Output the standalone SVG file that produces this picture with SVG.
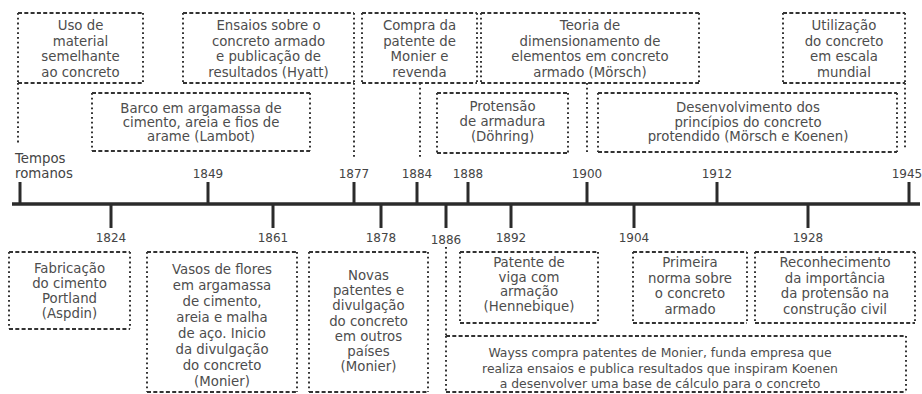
<svg xmlns="http://www.w3.org/2000/svg" width="922" height="394" viewBox="0 0 922 394">
<style>
.h{fill:none;stroke:#333;stroke-width:1.9;stroke-dasharray:4 2.3}
.v{fill:none;stroke:#333;stroke-width:2;stroke-dasharray:1.8 3}
.t{font-family:"DejaVu Sans","Liberation Sans",sans-serif;font-size:13.3px;fill:#4d4d4d;text-anchor:middle}
.y{font-family:"DejaVu Sans","Liberation Sans",sans-serif;font-size:12px;fill:#444;text-anchor:middle}
.axis{stroke:#2b2b2b;stroke-width:3.5}
.tick{stroke:#2b2b2b;stroke-width:3}
</style>
<rect width="922" height="394" fill="#fff"/>

<g id="timeline">
<line class="axis" x1="12" y1="204" x2="920" y2="204"/>
<line class="tick" x1="20" y1="182" x2="20" y2="204"/>
<line class="tick" x1="208" y1="182" x2="208" y2="204"/>
<line class="tick" x1="354" y1="182" x2="354" y2="204"/>
<line class="tick" x1="417" y1="182" x2="417" y2="204"/>
<line class="tick" x1="468" y1="182" x2="468" y2="204"/>
<line class="tick" x1="587" y1="182" x2="587" y2="204"/>
<line class="tick" x1="717" y1="182" x2="717" y2="204"/>
<line class="tick" x1="909" y1="182" x2="909" y2="204"/>
<line class="tick" x1="111" y1="204" x2="111" y2="228"/>
<line class="tick" x1="273" y1="204" x2="273" y2="228"/>
<line class="tick" x1="381" y1="204" x2="381" y2="228"/>
<line class="tick" x1="446" y1="204" x2="446" y2="228"/>
<line class="tick" x1="511" y1="204" x2="511" y2="228"/>
<line class="tick" x1="634" y1="204" x2="634" y2="228"/>
<line class="tick" x1="808" y1="204" x2="808" y2="228"/>
<text x="15" y="163" class="y" style="text-anchor:start;font-size:13.3px">Tempos</text>
<text x="15" y="178" class="y" style="text-anchor:start;font-size:13.3px">romanos</text>
<text x="208" y="178" class="y">1849</text>
<text x="354" y="178" class="y">1877</text>
<text x="417" y="178" class="y">1884</text>
<text x="468" y="178" class="y">1888</text>
<text x="587" y="178" class="y">1900</text>
<text x="717" y="178" class="y">1912</text>
<text x="907" y="178" class="y">1945</text>
<text x="111" y="242" class="y">1824</text>
<text x="273" y="242" class="y">1861</text>
<text x="381" y="242" class="y">1878</text>
<text x="446" y="244" class="y">1886</text>
<text x="511" y="242" class="y">1892</text>
<text x="634" y="242" class="y">1904</text>
<text x="808" y="242" class="y">1928</text>
</g>

<g id="connectors">
<path class="v" d="M18 83V145M354 83V157M420 83V157M587 83V154M905 83V150M446 247V337"/>
</g>

<g id="uso">
<path class="h" d="M18 13H143M18 83H143"/><path class="v" d="M18 13V83M143 13V83"/>
<text class="t"><tspan x="80.5" y="30">Uso de</tspan><tspan x="80.5" y="45.5">material</tspan><tspan x="80.5" y="61">semelhante</tspan><tspan x="80.5" y="76.5">ao concreto</tspan></text>
</g>
<g id="ensaios">
<path class="h" d="M183 13H354M183 83H354"/><path class="v" d="M183 13V83M354 13V83"/>
<text class="t"><tspan x="268.5" y="30">Ensaios sobre o</tspan><tspan x="268.5" y="45.5">concreto armado</tspan><tspan x="268.5" y="61">e publicação de</tspan><tspan x="268.5" y="76.5">resultados (Hyatt)</tspan></text>
</g>
<g id="compra">
<path class="h" d="M362 13H477M362 83H477"/><path class="v" d="M362 13V83M477 13V83"/>
<text class="t"><tspan x="419.5" y="30">Compra da</tspan><tspan x="419.5" y="45.5">patente de</tspan><tspan x="419.5" y="61">Monier e</tspan><tspan x="419.5" y="76.5">revenda</tspan></text>
</g>
<g id="teoria">
<path class="h" d="M481 13H699M481 83H699"/><path class="v" d="M481 13V83M699 13V83"/>
<text class="t"><tspan x="590" y="30">Teoria de</tspan><tspan x="590" y="45.5">dimensionamento de</tspan><tspan x="590" y="61">elementos em concreto</tspan><tspan x="590" y="76.5">armado (Mörsch)</tspan></text>
</g>
<g id="utilizacao">
<path class="h" d="M783 13H905M783 83H905"/><path class="v" d="M783 13V83M905 13V83"/>
<text class="t"><tspan x="844" y="30">Utilização</tspan><tspan x="844" y="45.5">do concreto</tspan><tspan x="844" y="61">em escala</tspan><tspan x="844" y="76.5">mundial</tspan></text>
</g>
<g id="barco">
<path class="h" d="M92 93H310M92 151H310"/><path class="v" d="M92 93V151M310 93V151"/>
<text class="t"><tspan x="201" y="113">Barco em argamassa de</tspan><tspan x="201" y="127">cimento, areia e fios de</tspan><tspan x="201" y="141">arame (Lambot)</tspan></text>
</g>
<g id="protensao">
<path class="h" d="M437 93H568M437 153H568"/><path class="v" d="M437 93V153M568 93V153"/>
<text class="t"><tspan x="502.5" y="111">Protensão</tspan><tspan x="502.5" y="126">de armadura</tspan><tspan x="502.5" y="141">(Döhring)</tspan></text>
</g>
<g id="desenvolvimento">
<path class="h" d="M598 93H897M598 152H897"/><path class="v" d="M598 93V152M897 93V152"/>
<text class="t"><tspan x="748" y="112">Desenvolvimento dos</tspan><tspan x="748" y="126.5">princípios do concreto</tspan><tspan x="748" y="141">protendido (Mörsch e Koenen)</tspan></text>
</g>

<g id="fabricacao">
<path class="h" d="M9 252H130M9 329H130"/><path class="v" d="M9 252V329M130 252V329"/>
<text class="t"><tspan x="69.5" y="273">Fabricação</tspan><tspan x="69.5" y="288">do cimento</tspan><tspan x="69.5" y="303">Portland</tspan><tspan x="69.5" y="318">(Aspdin)</tspan></text>
</g>
<g id="vasos">
<path class="h" d="M147 252H297M147 392H297"/><path class="v" d="M147 252V392M297 252V392"/>
<text class="t"><tspan x="222" y="274">Vasos de flores</tspan><tspan x="222" y="290">em argamassa</tspan><tspan x="222" y="306">de cimento,</tspan><tspan x="222" y="322">areia e malha</tspan><tspan x="222" y="338">de aço. Inicio</tspan><tspan x="222" y="354">da divulgação</tspan><tspan x="222" y="370">do concreto</tspan><tspan x="222" y="386">(Monier)</tspan></text>
</g>
<g id="novas">
<path class="h" d="M309 252H428M309 392H428"/><path class="v" d="M309 252V392M428 252V392"/>
<text class="t"><tspan x="368.5" y="280">Novas</tspan><tspan x="368.5" y="295">patentes e</tspan><tspan x="368.5" y="310">divulgação</tspan><tspan x="368.5" y="326">do concreto</tspan><tspan x="368.5" y="341">em outros</tspan><tspan x="368.5" y="356">países</tspan><tspan x="368.5" y="371">(Monier)</tspan></text>
</g>
<g id="patente">
<path class="h" d="M460 252H598M460 323H598"/><path class="v" d="M460 252V323M598 252V323"/>
<text class="t"><tspan x="529" y="267">Patente de</tspan><tspan x="529" y="281.5">viga com</tspan><tspan x="529" y="296">armação</tspan><tspan x="529" y="310.5">(Hennebique)</tspan></text>
</g>
<g id="primeira">
<path class="h" d="M633 252H747M633 323H747"/><path class="v" d="M633 252V323M747 252V323"/>
<text class="t"><tspan x="690" y="267">Primeira</tspan><tspan x="690" y="282.5">norma sobre</tspan><tspan x="690" y="298">o concreto</tspan><tspan x="690" y="313.5">armado</tspan></text>
</g>
<g id="reconhecimento">
<path class="h" d="M755 252H915M755 323H915"/><path class="v" d="M755 252V323M915 252V323"/>
<text class="t"><tspan x="835" y="267">Reconhecimento</tspan><tspan x="835" y="282.5">da importância</tspan><tspan x="835" y="298">da protensão na</tspan><tspan x="835" y="313.5">construção civil</tspan></text>
</g>
<g id="wayss">
<path class="h" d="M446 336H906M446 392H906"/><path class="v" d="M446 336V392M906 336V392"/>
<text class="t" style="font-size:12.4px"><tspan x="660" y="357">Wayss compra patentes de Monier, funda empresa que</tspan><tspan x="660" y="372.5">realiza ensaios e publica resultados que inspiram Koenen</tspan><tspan x="660" y="388">a desenvolver uma base de cálculo para o concreto</tspan></text>
</g>
</svg>
